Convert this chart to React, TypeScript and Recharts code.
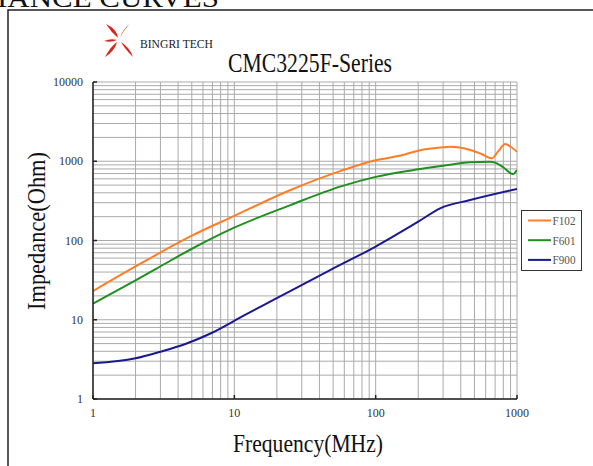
import { LineChart, Line, XAxis, YAxis, CartesianGrid, Legend } from "recharts";

// axis ticks (log grid) and the decades that carry a label
const FREQ_TICKS = [
  1, 2, 3, 4, 5, 6, 7, 8, 9, 10, 20, 30, 40, 50, 60, 70, 80, 90, 100, 200, 300,
  400, 500, 600, 700, 800, 900, 1000,
];
const IMP_TICKS = [
  1, 2, 3, 4, 5, 6, 7, 8, 9, 10, 20, 30, 40, 50, 60, 70, 80, 90, 100, 200, 300,
  400, 500, 600, 700, 800, 900, 1000, 2000, 3000, 4000, 5000, 6000, 7000, 8000,
  9000, 10000,
];
const FREQ_LABELS = [1, 10, 100, 1000];
const IMP_LABELS = [1, 10, 100, 1000, 10000];

// F102
const F102_FREQ = [1, 2, 5, 10, 25, 56, 100, 150, 200, 300, 336, 466, 560, 663, 740, 824, 900, 1000];
const F102_Z = [23, 47, 115, 205, 434, 750, 1030, 1180, 1360, 1500, 1520, 1390, 1235, 1090, 1350, 1650, 1525, 1320];

// F601
const F601_FREQ = [1, 2, 2.8, 4.9, 9.8, 25, 56, 100, 200, 300, 466, 645, 700, 800, 933, 1000];
const F601_Z = [16, 31.5, 44, 77, 143, 280, 478, 635, 791, 879, 970, 987, 960, 840, 690, 776];

// F900
const F900_FREQ = [1, 2, 3, 4.5, 6.9, 11.9, 18.9, 47.6, 100, 200, 286, 466, 1000];
const F900_Z = [2.82, 3.26, 3.95, 4.94, 6.8, 11.5, 17.8, 42.4, 84, 173, 255, 324, 447];

const FONT = '"Liberation Serif", "Times New Roman", serif';

const pair = (fs: number[], zs: number[]) => fs.map((f, i) => ({ f, z: zs[i] }));

const series = [
  { name: "F102", color: "#ff7d26", data: pair(F102_FREQ, F102_Z) },
  { name: "F601", color: "#1e901e", data: pair(F601_FREQ, F601_Z) },
  { name: "F900", color: "#1a1a90", data: pair(F900_FREQ, F900_Z) },
];

function XTick(props: any) {
  const { x, y, payload } = props;
  const v = payload.value;
  if (!FREQ_LABELS.includes(v)) return <g />;
  return (
    <g>
      <line x1={x} x2={x} y1={y - 9} y2={y - 13} stroke="#222" strokeWidth={1.5} />
      <text x={x} y={y} dy="0.71em" textAnchor="middle" fontSize={12} fill="#333" fontFamily={FONT}>
        {v}
      </text>
    </g>
  );
}

function YTick(props: any) {
  const { x, y, payload } = props;
  const v = payload.value;
  if (!IMP_LABELS.includes(v)) return <g />;
  return (
    <g>
      <line x1={x + 10} x2={x + 14} y1={y} y2={y} stroke="#222" strokeWidth={1.5} />
      <text x={x} y={y} dy="0.35em" textAnchor="end" fontSize={12} fill="#333" fontFamily={FONT}>
        {v}
      </text>
    </g>
  );
}

function LegendBox({ payload }: any) {
  return (
    <div
      style={{
        width: 61,
        height: 61,
        border: "1.5px solid #333",
        boxSizing: "border-box",
        background: "#fff",
      }}
    >
      <svg width={58} height={58} style={{ display: "block" }}>
        {(payload ?? []).map((e: any, i: number) => {
          const ly = 9.5 + i * 19.7;
          return (
            <g key={e.value}>
              <line x1={6} x2={29} y1={ly} y2={ly} stroke={e.color} strokeWidth={2} />
              <text
                x={30.5}
                y={ly + 4.5}
                fontSize={13}
                fill="#555"
                fontFamily={FONT}
                textLength={23}
                lengthAdjust="spacingAndGlyphs"
              >
                {e.value}
              </text>
            </g>
          );
        })}
      </svg>
    </div>
  );
}

export default function App() {
  return (
    <div style={{ position: "absolute", left: 0, top: 0, width: 593, height: 466, background: "#fff" }}>
      <LineChart
        width={593}
        height={466}
        margin={{ top: 82, right: 76, bottom: 37, left: 33 }}
      >
        <CartesianGrid stroke="#aaaaaa" strokeWidth={1} />
        <XAxis
          dataKey="f"
          type="number"
          scale="log"
          domain={[1, 1000]}
          ticks={FREQ_TICKS}
          interval={0}
          allowDataOverflow
          height={30}
          tickLine={false}
          tickSize={6}
          tickMargin={3}
          axisLine={{ stroke: "#222", strokeWidth: 1.5 }}
          tick={(p: any) => <XTick {...p} />}
        />
        <YAxis
          type="number"
          scale="log"
          domain={[1, 10000]}
          ticks={IMP_TICKS}
          interval={0}
          allowDataOverflow
          width={60}
          tickLine={false}
          tickSize={6}
          tickMargin={4}
          axisLine={{ stroke: "#222", strokeWidth: 1.5 }}
          tick={(p: any) => <YTick {...p} />}
        />
        <Legend
          layout="vertical"
          align="center"
          verticalAlign="middle"
          content={(p: any) => <LegendBox {...p} />}
          wrapperStyle={{ left: 521, top: 210, width: 61, height: 61 }}
        />
        {series.map((s) => (
          <Line
            key={s.name}
            data={s.data}
            dataKey="z"
            name={s.name}
            type="monotone"
            stroke={s.color}
            strokeWidth={2}
            dot={false}
            activeDot={false}
            isAnimationActive={false}
          />
        ))}
      </LineChart>

      <svg
        width={593}
        height={466}
        style={{ position: "absolute", left: 0, top: 0, pointerEvents: "none" }}
      >
        {/* page heading, cut off at the top edge as in the scan */}
        <text x={-3} y={7} fontSize={28} fontFamily={FONT} fill="#111" textLength={222} lengthAdjust="spacingAndGlyphs">
          IANCE CURVES
        </text>
        <path d="M8,466 L8,10 L593,10" fill="none" stroke="#222" strokeWidth={1.5} />

        <g fill="#d7261e">
          <path d="M106,24 Q117,29 118,38 Q111,32 106,24Z" />
          <path d="M131,23 Q122,30 120,38 Q124,29 131,23Z" />
          <path d="M104,41 Q111,38 117,40 Q111,43 104,41Z" />
          <path d="M105,57 Q111,46 117,42 Q115,51 105,57Z" />
          <path d="M133,57 Q124,48 121,42 Q130,48 133,57Z" />
        </g>
        <text x={140} y={48.3} fontSize={12} fontFamily={FONT} fill="#222" textLength={73} lengthAdjust="spacingAndGlyphs">
          BINGRI TECH
        </text>
        <text x={228} y={72} fontSize={28} fontFamily={FONT} fill="#111" textLength={164} lengthAdjust="spacingAndGlyphs">
          CMC3225F-Series
        </text>
        <text
          x={45}
          y={231}
          transform="rotate(-90 45 231)"
          textAnchor="middle"
          fontSize={26}
          fontFamily={FONT}
          fill="#111"
          textLength={158}
          lengthAdjust="spacingAndGlyphs"
        >
          Impedance(Ohm)
        </text>
        <text
          x={308}
          y={451.5}
          textAnchor="middle"
          fontSize={26}
          fontFamily={FONT}
          fill="#111"
          textLength={150}
          lengthAdjust="spacingAndGlyphs"
        >
          Frequency(MHz)
        </text>
      </svg>
    </div>
  );
}
